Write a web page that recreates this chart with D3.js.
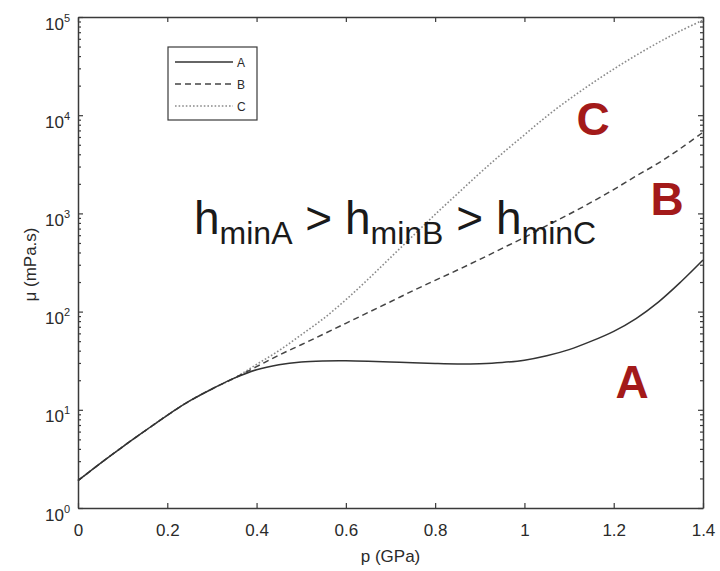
<!DOCTYPE html>
<html>
<head>
<meta charset="utf-8">
<script src="https://cdn.jsdelivr.net/npm/d3@7"></script>
<style>
  html, body { margin: 0; padding: 0; background: #fff; }
  svg { display: block; }
  text { font-family: "Liberation Sans", Arial, sans-serif; }
</style>
</head>
<body>
<svg id="chart" width="720" height="571"></svg>
<script>
// ---- data ----
const pressure = [0, 0.05, 0.1, 0.15, 0.2, 0.25, 0.3, 0.35, 0.4, 0.45, 0.5, 0.55, 0.6, 0.65, 0.7,
  0.75, 0.8, 0.85, 0.9, 0.95, 1.0, 1.05, 1.1, 1.15, 1.2, 1.25, 1.3, 1.35, 1.4];
const seriesA = [1.9, 2.85, 4.2, 6.1, 8.8, 12.3, 16.3, 21.0, 25.6, 28.8, 30.7, 31.4, 31.5, 31.2, 30.7,
  30.1, 29.6, 29.3, 29.5, 30.3, 32, 35.5, 41, 50, 63, 85, 125, 200, 335];
const seriesB = [1.9, 2.85, 4.2, 6.1, 8.8, 12.3, 16.3, 21.0, 27.5, 36, 46, 59, 76, 98, 126,
  163, 208, 265, 340, 440, 570, 750, 980, 1300, 1750, 2400, 3250, 4600, 6700];
const seriesC = [1.9, 2.85, 4.2, 6.1, 8.8, 12.3, 16.3, 21.0, 29, 40, 58, 85, 132, 214, 355,
  589, 977, 1585, 2570, 4070, 6310, 9770, 14500, 20900, 29500, 40700, 55000, 72400, 93000];
const seriesNames = ["A", "B", "C"];
const xTicks = [0, 0.2, 0.4, 0.6, 0.8, 1, 1.2, 1.4];
const yTickExponents = [0, 1, 2, 3, 4, 5];
const xLabel = "p (GPa)";
const yLabel = "\u03bc (mPa.s)";

// ---- layout / style ----
const L = 78, R = 703, T = 17, B = 508;
const axisColor = "#3a3a3a";
const textColor = "#2a2a2a";
const red = "#a31a1a";
const styles = {
  A: { stroke: "#333", dash: null, width: 1.5 },
  B: { stroke: "#444", dash: "6,4", width: 1.5 },
  C: { stroke: "#8a8a8a", dash: "1.6,2", width: 1.6 }
};

const svg = d3.select("#chart");
const x = d3.scaleLinear().domain([0, 1.4]).range([L, R]);
const y = d3.scaleLog().domain([1, 1e5]).range([B, T]);

const majorY = yTickExponents.map(e => Math.pow(10, e));
const minorY = [];
for (let e = 0; e < 5; e++) for (let m = 2; m <= 9; m++) minorY.push(m * Math.pow(10, e));

function styleAxis(g) {
  g.selectAll(".domain").attr("stroke", axisColor).attr("stroke-width", 1.5);
  g.selectAll(".tick line").attr("stroke", axisColor).attr("stroke-width", 1.2);
}

// bottom axis
const gx = svg.append("g").attr("transform", `translate(0,${B})`)
  .call(d3.axisBottom(x).tickValues(xTicks).tickSizeInner(-5).tickSizeOuter(0)
    .tickPadding(16).tickFormat(d3.format("~g")));
styleAxis(gx);
gx.selectAll(".tick text").attr("font-size", 17).attr("fill", textColor)
  .attr("font-family", "'Liberation Sans', Arial, sans-serif");

// top axis
const gxt = svg.append("g").attr("transform", `translate(0,${T})`)
  .call(d3.axisTop(x).tickValues(xTicks).tickSizeInner(-5).tickSizeOuter(0).tickFormat(""));
styleAxis(gxt);

// left axis major
const gy = svg.append("g").attr("transform", `translate(${L},0)`)
  .call(d3.axisLeft(y).tickValues(majorY).tickSizeInner(-5).tickSizeOuter(0).tickPadding(16));
styleAxis(gy);
gy.selectAll(".tick text").each(function(d) {
  const t = d3.select(this);
  t.text(null).attr("text-anchor", "end").attr("x", -8).attr("dy", null).attr("y", 0)
    .attr("fill", textColor).attr("font-family", "'Liberation Sans', Arial, sans-serif");
  t.append("tspan").attr("font-size", 17).attr("dy", 12).text("10");
  t.append("tspan").attr("font-size", 11).attr("dy", -8).text(String(Math.round(Math.log10(d))));
});
// left minor
const gym = svg.append("g").attr("transform", `translate(${L},0)`)
  .call(d3.axisLeft(y).tickValues(minorY).tickSizeInner(-3).tickSizeOuter(0).tickFormat(""));
styleAxis(gym);
gym.select(".domain").remove();

// right axis
const gyr = svg.append("g").attr("transform", `translate(${R},0)`)
  .call(d3.axisRight(y).tickValues(majorY).tickSizeInner(-5).tickSizeOuter(0).tickFormat(""));
styleAxis(gyr);
const gyrm = svg.append("g").attr("transform", `translate(${R},0)`)
  .call(d3.axisRight(y).tickValues(minorY).tickSizeInner(-3).tickSizeOuter(0).tickFormat(""));
styleAxis(gyrm);
gyrm.select(".domain").remove();

// axis labels
svg.append("text").attr("x", (L + R) / 2).attr("y", 562).attr("text-anchor", "middle")
  .attr("font-size", 17).attr("fill", textColor).text(xLabel);
svg.append("text").attr("transform", `translate(36,${(T + B) / 2 + 2}) rotate(-90)`)
  .attr("text-anchor", "middle").attr("font-size", 17).attr("fill", textColor).text(yLabel);

// curves
const seriesData = { A: seriesA, B: seriesB, C: seriesC };
const line = d3.line().x(d => x(d[0])).y(d => y(d[1])).curve(d3.curveCatmullRom.alpha(0.5));
["C", "B", "A"].forEach(name => {
  const pts = pressure.map((p, i) => [p, seriesData[name][i]]);
  const s = styles[name];
  svg.append("path").datum(pts).attr("d", line).attr("fill", "none")
    .attr("stroke", s.stroke).attr("stroke-width", s.width)
    .attr("stroke-dasharray", s.dash);
});

// legend
const lg = svg.append("g");
lg.append("rect").attr("x", 168).attr("y", 47).attr("width", 89).attr("height", 73)
  .attr("fill", "#fff").attr("stroke", axisColor).attr("stroke-width", 1.2);
seriesNames.forEach((name, i) => {
  const yy = 62 + i * 22;
  const s = styles[name];
  lg.append("line").attr("x1", 175).attr("x2", 233).attr("y1", yy).attr("y2", yy)
    .attr("stroke", s.stroke).attr("stroke-width", s.width).attr("stroke-dasharray", s.dash);
  lg.append("text").attr("x", 237).attr("y", yy + 4.5).attr("font-size", 12)
    .attr("fill", textColor).text(name);
});

// annotation h_minA > h_minB > h_minC
const ann = svg.append("text").attr("x", 194).attr("y", 234).attr("fill", "#1a1a1a");
seriesNames.forEach((name, i) => {
  ann.append("tspan").attr("font-size", 46).attr("dy", 0).text("h");
  ann.append("tspan").attr("font-size", 32).attr("dy", 10).text("min" + name);
  if (i < seriesNames.length - 1) {
    ann.append("tspan").attr("font-size", 46).attr("dy", -10).text("\u00a0>\u00a0");
  }
});

// red series letters
const letterPos = { C: [593, 135], B: [667, 215], A: [632, 398] };
seriesNames.forEach(name => {
  svg.append("text").attr("x", letterPos[name][0]).attr("y", letterPos[name][1])
    .attr("text-anchor", "middle").attr("font-size", 46).attr("font-weight", "bold")
    .attr("fill", red).text(name);
});
</script>
</body>
</html>
